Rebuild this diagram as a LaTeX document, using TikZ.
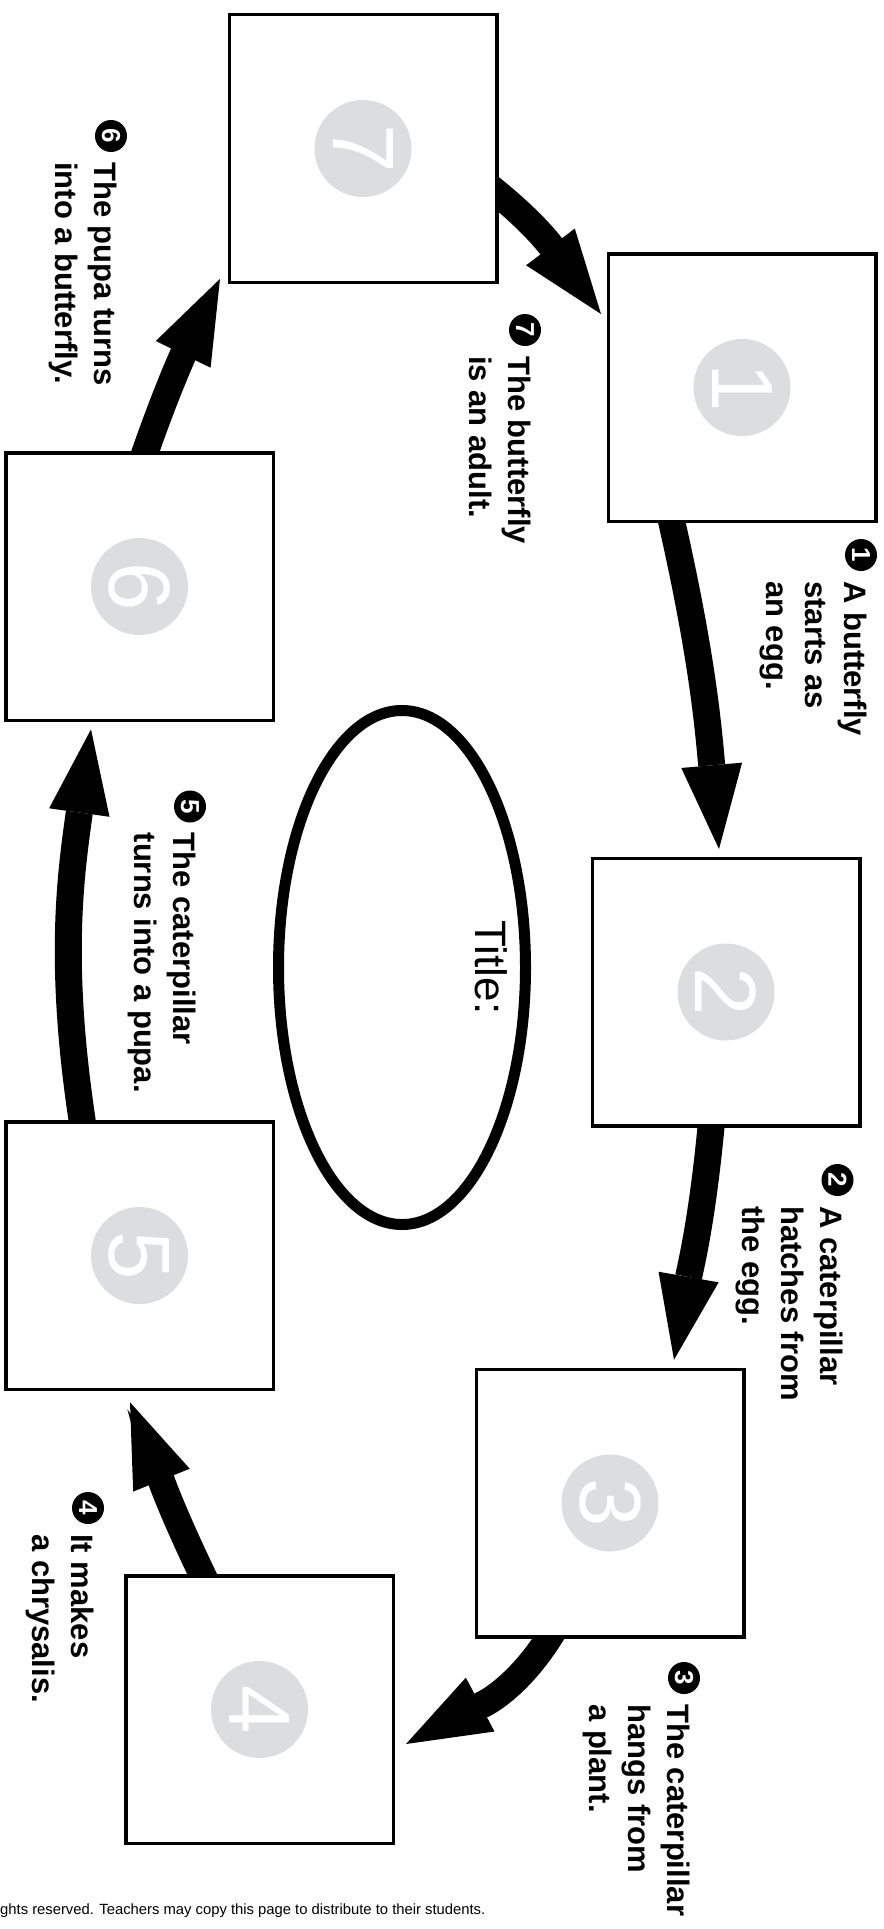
\documentclass[tikz,border=0pt]{standalone}
\usepackage{fontspec}
\setmainfont{Liberation Sans}
\usetikzlibrary{arrows.meta, shapes.geometric, backgrounds}
\definecolor{numgrey}{RGB}{220,221,223}

\begin{document}
\begin{tikzpicture}[x=1pt, y=1pt,
stage/.style={draw, line width=3.5pt, fill=white, minimum size=267.5pt, inner sep=0pt},
stagenum/.style={circle, fill=numgrey, text=white, minimum size=97pt, inner sep=0pt, rotate=-90, font=\fontsize{87}{87}\selectfont},
badge/.style={circle, fill=black, text=white, minimum size=32pt, inner sep=0pt, rotate=-90, font=\bfseries\fontsize{26}{26}\selectfont},
note/.style={rotate=-90, anchor=base west, inner sep=0pt, font=\bfseries\fontsize{31}{39}\selectfont},
oval/.style={ellipse, draw, line width=11pt, minimum width=247pt, minimum height=514pt, inner sep=0pt},
lifearrow/.style={line width=27pt, -{Triangle[width=61pt, length=84pt, line width=0pt]}, shorten <=-15pt}
]
\useasboundingbox (0,0) rectangle (883,-1929);

\node[stage] (box1) at (742,-387.5) {};
\node[stage] (box2) at (726,-992) {};
\node[stage] (box3) at (610,-1503) {};
\node[stage] (box4) at (259.5,-1709.5) {};
\node[stage] (box5) at (139.5,-1255.5) {};
\node[stage] (box6) at (139.5,-586.5) {};
\node[stage] (box7) at (363,-148.5) {};

\node[stagenum] (num1) at (box1) {1};
\node[stagenum] (num2) at (box2) {2};
\node[stagenum] (num3) at (box3) {3};
\node[stagenum] (num4) at (box4) {4};
\node[stagenum] (num5) at (box5) {5};
\node[stagenum] (num6) at (box6) {6};
\node[stagenum] (num7) at (box7) {7};

\begin{scope}[on background layer]
\draw[lifearrow] ([shift={(0,-45.5)}]box7.east) to[out=-38, in=127] ([shift={(-5.5,73.5)}]box1.west);
\draw[lifearrow] ([shift={(-70,0)}]box1.south) to[out=-77, in=95] ([shift={(-7,7.5)}]box2.north);
\draw[lifearrow] ([shift={(-15,0)}]box2.south) to[out=-95, in=80] ([shift={(64,7.75)}]box3.north);
\draw[lifearrow] ([shift={(-61,0)}]box3.south) to[out=-120, in=28] ([shift={(11,-34.5)}]box4.east);
\draw[lifearrow] ([shift={(-57.5,0)}]box4.north) to[out=116, in=-68] ([shift={(-9.5,-11.25)}]box5.south);
\draw[lifearrow] ([shift={(-57.5,0)}]box5.north) to[out=99, in=-98] ([shift={(-48.5,-7.35)}]box6.south);
\draw[lifearrow] ([shift={(6,0)}]box6.north) to[out=71, in=-116] ([shift={(-7.5,5.15)}]box7.south west);
\end{scope}

\node[badge] (mark1) at (861,-555) {1};
\node[note] (note1) at ([shift={(-17,-26)}]mark1.center) {\begin{tabular}[t]{@{}l@{}}A butterfly\\starts as\\an egg.\end{tabular}};
\node[badge] (mark2) at (837.5,-1180) {2};
\node[note] (note2) at ([shift={(-17,-26)}]mark2.center) {\begin{tabular}[t]{@{}l@{}}A caterpillar\\hatches from\\the egg.\end{tabular}};
\node[badge] (mark3) at (684,-1678) {3};
\node[note] (note3) at ([shift={(-17,-26)}]mark3.center) {\begin{tabular}[t]{@{}l@{}}The caterpillar\\hangs from\\a plant.\end{tabular}};
\node[badge] (mark4) at (88,-1508) {4};
\node[note] (note4) at ([shift={(-17,-26)}]mark4.center) {\begin{tabular}[t]{@{}l@{}}It makes\\a chrysalis.\end{tabular}};
\node[badge] (mark5) at (190,-806.5) {5};
\node[note] (note5) at ([shift={(-17,-26)}]mark5.center) {\begin{tabular}[t]{@{}l@{}}The caterpillar\\turns into a pupa.\end{tabular}};
\node[badge] (mark6) at (111,-136) {6};
\node[note] (note6) at ([shift={(-17,-26)}]mark6.center) {\begin{tabular}[t]{@{}l@{}}The pupa turns\\into a butterfly.\end{tabular}};
\node[badge] (mark7) at (525,-330) {7};
\node[note] (note7) at ([shift={(-17,-26)}]mark7.center) {\begin{tabular}[t]{@{}l@{}}The butterfly\\is an adult.\end{tabular}};

\node[oval] (oval) at (402,-967.5) {};
\node[rotate=-90, anchor=base, inner sep=0pt, font=\fontsize{44}{44}\selectfont] (title) at ([xshift=73pt]oval.center) {Title:};

\node[anchor=base west, inner sep=0pt, font=\fontsize{14.8}{14.8}\selectfont] (rights) at (0,-1914) {ghts reserved. Teachers may copy this page to distribute to their students.};
\end{tikzpicture}
\end{document}
